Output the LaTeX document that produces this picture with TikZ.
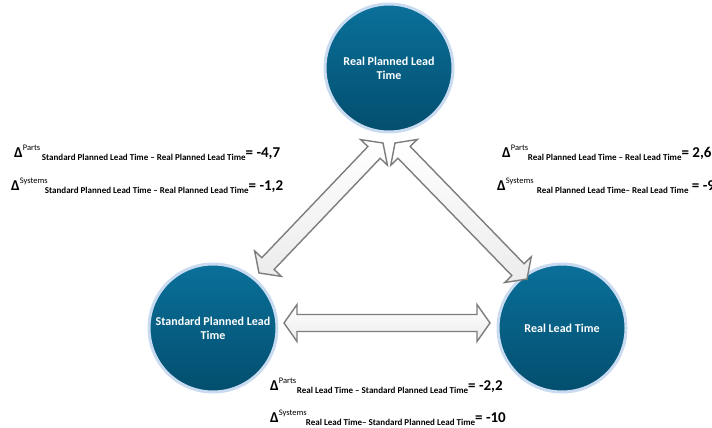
\documentclass[tikz,border=0pt]{standalone}
\usepackage{fontspec}
\setmainfont{Carlito}
\usetikzlibrary{calc}

\definecolor{ringblue}{RGB}{200,219,240}
\definecolor{topblue}{RGB}{10,112,154}
\definecolor{botblue}{RGB}{3,78,110}
\definecolor{arrowgray}{RGB}{125,125,125}
\definecolor{arrowfill}{RGB}{236,236,236}

% geometry of the double block arrows
\def\headlen{13pt}
\def\headw{18.5pt}
\def\shaftw{8.5pt}

% double-headed block arrow between two tip coordinates
\newcommand{\dblarrow}[2]{%
  \draw[blockarrow] (#1)
    -- ($(#1)!\headlen!(#2)!\headw!90:(#2)$)
    -- ($(#1)!\headlen!(#2)!\shaftw!90:(#2)$)
    -- ($(#2)!\headlen!(#1)!\shaftw!-90:(#1)$)
    -- ($(#2)!\headlen!(#1)!\headw!-90:(#1)$)
    -- (#2)
    -- ($(#2)!\headlen!(#1)!\headw!90:(#1)$)
    -- ($(#2)!\headlen!(#1)!\shaftw!90:(#1)$)
    -- ($(#1)!\headlen!(#2)!\shaftw!-90:(#2)$)
    -- ($(#1)!\headlen!(#2)!\headw!-90:(#2)$)
    -- cycle;}

% delta expression: superscript, gap before subscript, subscript, value
\newcommand{\deltaexpr}[4]{%
  {\fontsize{15}{15}\selectfont\bfseries Δ}%
  \rlap{\raisebox{7pt}{\fontsize{8.5}{8.5}\selectfont #1}}%
  \hspace{#2}%
  \raisebox{-3pt}{\fontsize{9}{9}\selectfont\bfseries #3}%
  {\fontsize{15}{15}\selectfont\bfseries #4}}

\tikzset{
  stage/.style={circle, minimum size=128pt, inner sep=0pt,
    draw=ringblue, line width=3pt,
    top color=topblue, bottom color=botblue,
    text=white, font=\fontsize{12}{14}\selectfont\bfseries, align=center},
  blockarrow/.style={draw=arrowgray, line width=1.4pt, line join=miter,
    top color=white, bottom color=arrowfill},
  delta/.style={anchor=base west, inner sep=0pt}
}

\begin{document}
\begin{tikzpicture}[x=1pt, y=-1pt]
  \useasboundingbox[fill=white] (0,0) rectangle (712,428);

  % the three lead-time stages
  \node[stage] (rpl) at (389,68)  {Real Planned Lead\\Time};
  \node[stage] (spl) at (213,328) {Standard Planned Lead\\Time};
  \node[stage] (rl)  at (562,328) {Real Lead Time};

  % arrow tips beside each stage
  \coordinate (spl-top)   at (259,273);
  \coordinate (rpl-left)  at (383,143);
  \coordinate (rpl-right) at (395,143);
  \coordinate (rl-top)    at (527,279);
  \coordinate (spl-right) at (284,323);
  \coordinate (rl-left)   at (490,323);

  \dblarrow{spl-top}{rpl-left}
  \dblarrow{rpl-right}{rl-top}
  \dblarrow{spl-right}{rl-left}

  % differences between the lead times
  \node[delta] (d1p) at (14,157)
    {\deltaexpr{Parts}{19pt}{Standard Planned Lead Time – Real Planned Lead Time}{= -4,7}};
  \node[delta] (d1s) at (11,190)
    {\deltaexpr{Systems}{25pt}{Standard Planned Lead Time – Real Planned Lead Time}{= -1,2}};
  \node[delta] (d2p) at (502,157)
    {\deltaexpr{Parts}{17pt}{Real Planned Lead Time – Real Lead Time}{= 2,6}};
  \node[delta] (d2s) at (497,190)
    {\deltaexpr{Systems}{31pt}{Real Planned Lead Time– Real Lead Time}{\ = -9}};
  \node[delta] (d3p) at (270,390)
    {\deltaexpr{Parts}{18pt}{Real Lead Time – Standard Planned Lead Time}{= -2,2}};
  \node[delta] (d3s) at (270,422)
    {\deltaexpr{Systems}{27pt}{Real Lead Time– Standard Planned Lead Time}{= -10}};
\end{tikzpicture}
\end{document}
